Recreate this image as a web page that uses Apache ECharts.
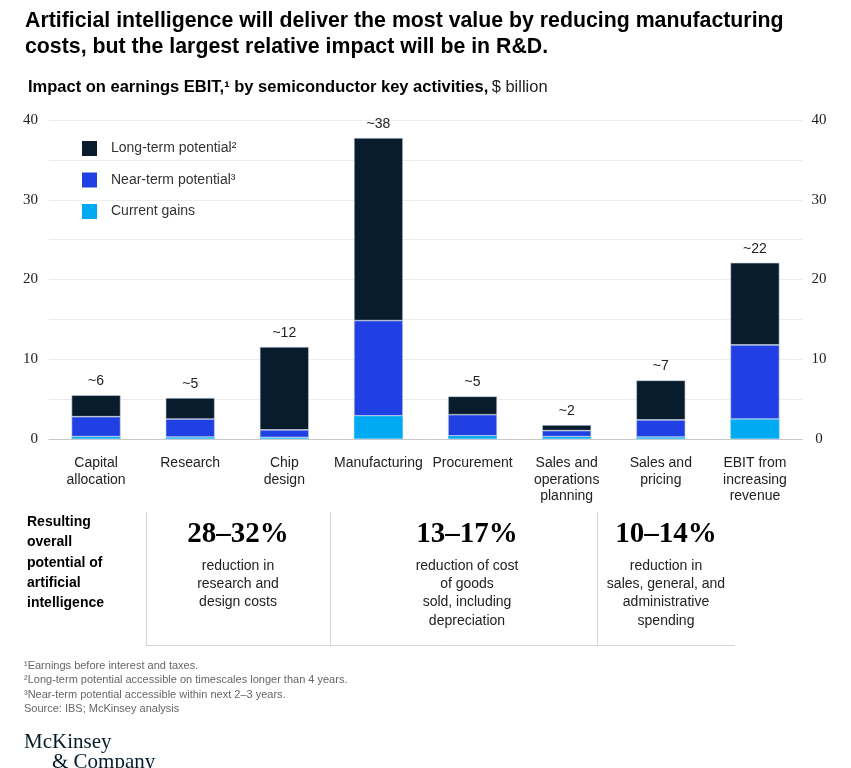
<!DOCTYPE html>
<html><head><meta charset="utf-8">
<script src="https://cdn.jsdelivr.net/npm/echarts/dist/echarts.min.js"></script>
<style>html,body{margin:0;padding:0;background:#fff}#c{width:851px;height:768px}</style>
</head><body><div id="c"></div>
<script>
const categories = ['Capital\nallocation','Research','Chip\ndesign','Manufacturing','Procurement','Sales and\noperations\nplanning','Sales and\npricing','EBIT from\nincreasing\nrevenue'];
const seriesNames = ['Long-term potential²','Near-term potential³','Current gains'];
const currentGains = [0.3, 0.25, 0.2, 2.9, 0.4, 0.3, 0.25, 2.5];
const nearTerm = [2.5, 2.25, 0.95, 11.95, 2.65, 0.75, 2.15, 9.3];
const longTerm = [2.7, 2.65, 10.4, 22.9, 2.3, 0.7, 4.95, 10.3];
const totalLabels = ['~6','~5','~12','~38','~5','~2','~7','~22'];
const yTickLabels = [0, 10, 20, 30, 40];
const summaryValues = ['28–32%','13–17%','10–14%'];
const summaryTexts = ['reduction in\nresearch and\ndesign costs','reduction of cost\nof goods\nsold, including\ndepreciation','reduction in\nsales, general, and\nadministrative\nspending'];
const footnotes = ['¹Earnings before interest and taxes.','²Long-term potential accessible on timescales longer than 4 years.','³Near-term potential accessible within next 2–3 years.','Source: IBS; McKinsey analysis'];

const COLORS = {long:'#081c2e', near:'#2140e3', cur:'#00aaf2'};
const SANS = 'Liberation Sans, Arial, sans-serif';
const SERIF = 'Liberation Serif, Times New Roman, serif';

const chart = echarts.init(document.getElementById('c'), null, {renderer:'canvas'});

const barBase = {type:'bar', stack:'total', barWidth:49,
  itemStyle:{borderColor:'#c9d3e3', borderWidth:0.6}, emphasis:{disabled:true}};

function yAxisDef(pos){
  return {type:'value', position:pos, min:0, max:40, interval:5,
    axisLine:{show:false}, axisTick:{show:false},
    splitLine:{show:pos==='left', lineStyle:{color:'#ececec', width:1}},
    axisLabel:{formatter:v => yTickLabels.indexOf(v) >= 0 ? String(v) : '',
      color:'#222', fontFamily:SERIF, fontSize:15,
      margin: pos==='left' ? 11 : 17, align: pos==='left' ? 'right' : 'center'}};
}

const graphics = [];
graphics.push({type:'text', left:25, top:8, style:{text:'Artificial intelligence will deliver the most value by reducing manufacturing\ncosts, but the largest relative impact will be in R&D.', font:'bold 21.3px '+SANS, fill:'#000', lineHeight:26}});
graphics.push({type:'text', left:28, top:79, style:{text:'{b|Impact on earnings EBIT,¹ by semiconductor key activities,} {r|$ billion}', rich:{b:{font:'bold 16.5px '+SANS, fill:'#000'}, r:{font:'16.5px '+SANS, fill:'#222'}}}});
graphics.push({type:'text', left:27, top:512, style:{text:'Resulting\noverall\npotential of\nartificial\nintelligence', font:'bold 14px '+SANS, fill:'#000', lineHeight:20.3}});
const lineStyle = {stroke:'#d6d6d6', lineWidth:1};
[146, 330, 597].forEach(x => graphics.push({type:'line', shape:{x1:x+0.5, y1:512, x2:x+0.5, y2:645}, style:lineStyle}));
graphics.push({type:'line', shape:{x1:146, y1:645.5, x2:735, y2:645.5}, style:lineStyle});
const centers = [238, 467, 666];
summaryValues.forEach((t,i) => {
  graphics.push({type:'text', x:centers[i], y:535, style:{text:t, font:'bold 29px '+SERIF, fill:'#000', align:'center', verticalAlign:'middle'}});
  graphics.push({type:'text', x:centers[i], y:557, style:{text:summaryTexts[i], font:'14px '+SANS, fill:'#222', align:'center', verticalAlign:'top', lineHeight:18.2}});
});
footnotes.forEach((t,i) => graphics.push({type:'text', x:24, y:666 + i*14.4, style:{text:t, font:'11px '+SANS, fill:'#666', verticalAlign:'middle'}}));
graphics.push({type:'text', x:24, y:742, style:{text:'McKinsey', font:'21px '+SERIF, fill:'#051c2c', verticalAlign:'middle'}});
graphics.push({type:'text', x:52, y:762, style:{text:'& Company', font:'21px '+SERIF, fill:'#051c2c', verticalAlign:'middle'}});

chart.setOption({
  animation:false,
  backgroundColor:'#fff',
  grid:{left:49, right:49, top:120, bottom:329, containLabel:false},
  legend:{orient:'vertical', left:82, top:141, padding:0, itemWidth:15, itemHeight:15, itemGap:16.5,
    data:seriesNames, selectedMode:false, icon:'rect',
    itemStyle:{borderWidth:0},
    textStyle:{fontFamily:SANS, fontSize:14, color:'#333', padding:[0,0,0,9]}},
  xAxis:{type:'category', data:categories,
    axisLine:{lineStyle:{color:'#c8c8c8'}},
    axisTick:{inside:true, length:8, lineStyle:{color:'#d0d0d0'}, interval:0},
    axisLabel:{interval:0, color:'#222', fontFamily:SANS, fontSize:14, lineHeight:16.5, margin:16}},
  yAxis:[yAxisDef('left'), yAxisDef('right')],
  series:[
    Object.assign({}, barBase, {name:seriesNames[2], data:currentGains, itemStyle:{color:COLORS.cur, borderColor:'#7fd0f6', borderWidth:0.4}}),
    Object.assign({}, barBase, {name:seriesNames[1], data:nearTerm, itemStyle:Object.assign({}, barBase.itemStyle, {color:COLORS.near})}),
    Object.assign({}, barBase, {name:seriesNames[0], data:longTerm, itemStyle:Object.assign({}, barBase.itemStyle, {color:COLORS.long}),
      label:{show:true, position:'top', distance:7, formatter:p => totalLabels[p.dataIndex], color:'#222', fontFamily:SANS, fontSize:14}})
  ],
  graphic:graphics
});
</script></body></html>
